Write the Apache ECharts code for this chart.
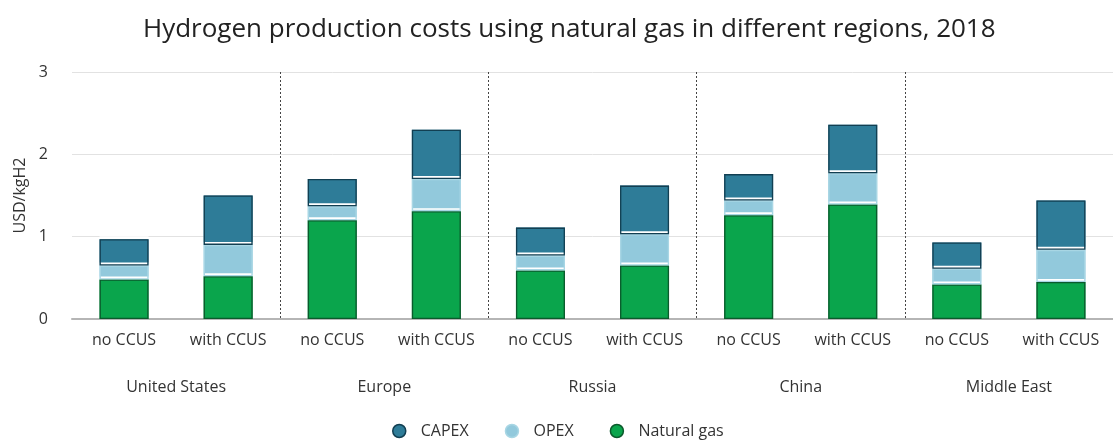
<!DOCTYPE html>
<html>
<head>
<meta charset="utf-8">
<script src="https://cdn.jsdelivr.net/npm/echarts@6/dist/echarts.min.js"></script>
<style>
html,body{margin:0;padding:0;background:#fff;}
#chart{width:1113px;height:442px;}
</style>
</head>
<body>
<div id="chart"></div>
<script>
const cases = ['no CCUS','with CCUS','no CCUS','with CCUS','no CCUS','with CCUS','no CCUS','with CCUS','no CCUS','with CCUS'];
const regions = ['United States','Europe','Russia','China','Middle East'];
const naturalGas = [0.48, 0.52, 1.20, 1.31, 0.59, 0.65, 1.26, 1.39, 0.42, 0.45];
const opex       = [0.17, 0.38, 0.17, 0.39, 0.18, 0.38, 0.18, 0.38, 0.19, 0.39];
const capex      = [0.32, 0.60, 0.33, 0.60, 0.34, 0.59, 0.32, 0.59, 0.32, 0.60];
const yTicks = [0, 1, 2, 3];

const FONT = '"Open Sans", "Noto Sans", sans-serif';
const COLORS = {capex: '#2e7c98', opex: '#92c9dc', gas: '#0aa54c'};
const BORDERS = {capex: '#123f52', opex: '#a8d6e4', gas: '#0b5a2c'};
const chart = echarts.init(document.getElementById('chart'));

// filled segments: white shadow shifted up produces the gap above each segment
function fillSeg(name, data, color, z) {
  return {
    name: name, type: 'bar', stack: 'fill', data: data,
    barWidth: 49, z: z,
    itemStyle: {color: color, shadowColor: '#ffffff', shadowBlur: 0, shadowOffsetX: 0, shadowOffsetY: -3},
    emphasis: {disabled: true}
  };
}
// outlines drawn on top of the filled segments
function lineSeg(name, data, border) {
  return {
    name: name, type: 'bar', stack: 'line', data: data,
    barWidth: 49, barGap: '-100%', z: 10, silent: true,
    itemStyle: {color: 'rgba(0,0,0,0)', borderColor: border, borderWidth: 1.3},
    emphasis: {disabled: true}
  };
}

chart.setOption({
  animation: false,
  textStyle: {fontFamily: FONT},
  title: {
    text: 'Hydrogen production costs using natural gas in different regions, 2018',
    left: 138, top: 12,
    textStyle: {fontFamily: FONT, fontSize: 26, fontWeight: 'normal', color: '#222'}
  },
  legend: {
    data: [
      {name: 'CAPEX', itemStyle: {borderColor: BORDERS.capex, borderWidth: 1.5, shadowColor: 'rgba(0,0,0,0)', shadowOffsetY: 0}},
      {name: 'OPEX', itemStyle: {borderColor: BORDERS.opex, borderWidth: 1.5, shadowColor: 'rgba(0,0,0,0)', shadowOffsetY: 0}},
      {name: 'Natural gas', itemStyle: {borderColor: BORDERS.gas, borderWidth: 1.5, shadowColor: 'rgba(0,0,0,0)', shadowOffsetY: 0}}
    ],
    top: 418, left: 387,
    icon: 'circle', itemWidth: 13, itemHeight: 13, itemGap: 36,
    textStyle: {fontFamily: FONT, fontSize: 16, color: '#333', padding: [0, 0, 0, 10]}
  },
  grid: {left: 72, right: -9, top: 72, bottom: 123},
  xAxis: [
    {
      type: 'category', data: cases, position: 'bottom',
      axisLine: {show: true, lineStyle: {color: '#b5b5b5', width: 2}},
      axisTick: {show: false},
      axisLabel: {margin: 13, fontSize: 16, color: '#333', fontFamily: FONT, interval: 0},
      splitLine: {show: false}
    },
    {
      type: 'category', data: regions, position: 'bottom',
      axisLine: {show: false}, axisTick: {show: false},
      axisLabel: {margin: 60, fontSize: 16, color: '#333', fontFamily: FONT, interval: 0},
      splitLine: {show: true, interval: function (i) { return i > 0; },
        lineStyle: {color: '#444', width: 1, type: [2, 2]}}
    }
  ],
  yAxis: {
    type: 'value', min: yTicks[0], max: yTicks[yTicks.length - 1], interval: 1,
    name: 'USD/kgH2', nameLocation: 'middle', nameGap: 43, nameRotate: 90,
    nameTextStyle: {fontFamily: FONT, fontSize: 16, color: '#333'},
    axisLine: {show: false}, axisTick: {show: false},
    axisLabel: {fontSize: 16, color: '#333', fontFamily: FONT, margin: 24},
    splitLine: {lineStyle: {color: '#e2e2e2', width: 1}}
  },
  series: [
    fillSeg('Natural gas', naturalGas, COLORS.gas, 5),
    fillSeg('OPEX', opex, COLORS.opex, 4),
    fillSeg('CAPEX', capex, COLORS.capex, 3),
    lineSeg('gas-outline', naturalGas, BORDERS.gas),
    lineSeg('opex-outline', opex, BORDERS.opex),
    lineSeg('capex-outline', capex, BORDERS.capex),
    {type: 'bar', xAxisIndex: 1, data: [], silent: true}
  ]
});
</script>
</body>
</html>
